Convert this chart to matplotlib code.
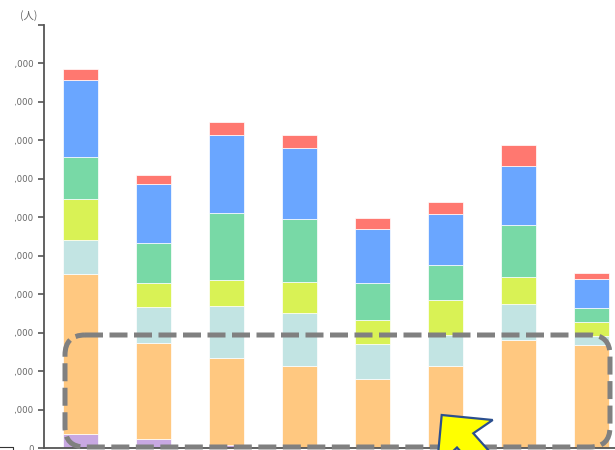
import numpy as np
import matplotlib
matplotlib.use("Agg")
import matplotlib.pyplot as plt
from matplotlib.patches import FancyBboxPatch, Polygon, Rectangle
from matplotlib.lines import Line2D
from matplotlib.transforms import Affine2D

# stacked segments, bottom to top (people)
purple = [3640, 2260, 780, 0, 0, 0, 0, 0]
orange = [41700, 25050, 22550, 21330, 17950, 21400, 28170, 26870]
cyan = [8760, 9280, 13600, 13700, 9100, 7910, 9200, 2260]
yellow = [10580, 6400, 6840, 8140, 6240, 9100, 7020, 3720]
green = [10920, 10250, 17350, 16380, 9620, 9180, 13600, 3560]
blue = [20180, 15500, 20210, 18540, 13970, 13190, 15270, 7540]
red = [2700, 2340, 3380, 3300, 3020, 3120, 5460, 1480]

series = [purple, orange, cyan, yellow, green, blue, red]
colors = ["#c8a8e2", "#ffc880", "#c2e4e3", "#d9f255", "#78d9a6", "#6aa6ff", "#ff7870"]

yticks = list(range(0, 110001, 10000))
ytick_labels = ["0"] + [f"{v:,}" for v in yticks[1:-1]] + [""]

W, H = 615, 450
fig = plt.figure(figsize=(W / 100, H / 100), dpi=100)
ax = fig.add_axes([44 / W, 2 / H, (W - 44) / W, (448 - 25) / H])

x = np.arange(len(purple))
bottom = np.zeros(len(x))
for vals, col in zip(series, colors):
    ax.bar(x, vals, width=0.48, bottom=bottom, color=col,
           edgecolor="white", linewidth=0.5, zorder=2)
    bottom += np.array(vals)

ax.set_xlim(-0.5, 7.32)
ax.set_ylim(0, 110000)
ax.set_yticks(yticks)
ax.set_yticklabels(ytick_labels)
ax.set_xticks([])
ax.tick_params(axis="y", length=4, width=1.2, color="#555555",
               labelsize=6.2, labelcolor="#666666", pad=3.5)
for s in ["top", "right"]:
    ax.spines[s].set_visible(False)
ax.spines["left"].set_color("#555555")
ax.spines["left"].set_linewidth(1.3)
ax.spines["bottom"].set_color("#555555")
ax.spines["bottom"].set_linewidth(1.3)

# pixel coords (y from top) -> figure
px = Affine2D().scale(1, -1).translate(0, H).scale(1 / W, 1 / H) + fig.transFigure

fig.text(20, 16, "(人)", transform=px, fontsize=7.5, color="#666666",
         family=["Noto Sans CJK JP", "DejaVu Sans"], va="center")

# white strip cutting off the left of the tick labels
fig.add_artist(Rectangle((0, 40), 15, 400, transform=px,
                         facecolor="white", edgecolor="none", zorder=5))
fig.add_artist(Line2D([0, 13, 13], [446.8, 446.8, 452], transform=px,
                      color="#333333", lw=0.8, zorder=6))

# dashed rounded box
box = FancyBboxPatch((65, 335), 545, 112, boxstyle="round,pad=0,rounding_size=20",
                     transform=px, facecolor="none", edgecolor="#808080",
                     linewidth=3.6, linestyle=(0, (3.6, 1.3)), zorder=7,
                     capstyle="butt")
fig.add_artist(box)

# yellow arrow pointer
arrow = Polygon([(441.7, 415), (492.7, 420), (473.3, 433.3), (513, 478),
                 (497, 492), (457, 447.5), (437, 466)], closed=True,
                transform=px, facecolor="#ffff00", edgecolor="#2b4f8f",
                linewidth=1.6, zorder=8)
fig.add_artist(arrow)

fig.savefig("out.png", dpi=100)
